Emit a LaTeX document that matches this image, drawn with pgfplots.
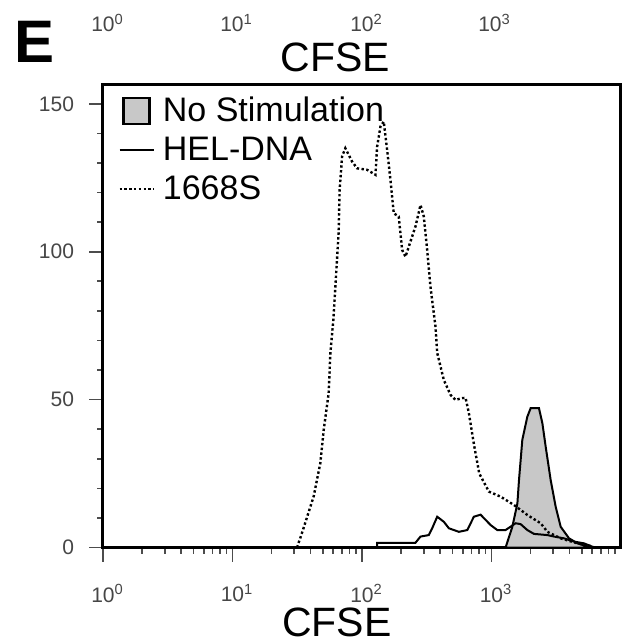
\documentclass[border=0pt]{standalone}
\usepackage{fontspec}
\setmainfont{Liberation Sans}
\usepackage{pgfplots}
\pgfplotsset{compat=1.18}

\definecolor{nostim}{RGB}{200,200,200}
\definecolor{ticktext}{RGB}{70,70,70}

% 1668S (dotted)
\pgfplotstableread{
x y
31.5 0
34.4 4.9
42.3 17.2
47.7 28.6
50.6 39.7
55.3 52.2
57.0 65.8
60.1 76.9
62.3 88.2
66.0 106.4
67.2 120.9
70.2 132.2
74.4 135.0
83.8 130.5
91.6 128.2
109.5 127.7
127.0 126.0
130.9 135.5
138.8 142.3
147.2 144.0
156.4 134.4
165.9 124.3
175.9 113.0
192.2 111.9
204.2 100.6
216.6 98.3
236.7 103.4
258.7 108.5
283.1 115.8
300.1 111.9
318.7 100.6
337.8 88.2
369.4 74.7
380.9 65.8
428.6 56.6
483.0 51.6
527.7 49.9
594.3 50.5
630.6 50.6
668.6 45.5
731 35.0
805 25.0
954.5 18.9
1175 17.2
1488 14.4
1891 11.0
2398 8.2
2703 5.3
3423 3.1
4610 1.4
5840 0.5
6200 0
}\stimdata

% HEL-DNA (solid)
\pgfplotstableread{
x y
100 0
130.9 0
130.9 1.6
258.7 1.6
283.1 3.7
328 4.2
348.4 6.5
380.9 10.4
428.6 8.7
468.8 6.5
559.8 5.3
650.2 5.9
731 10.4
823.6 11.1
984 7.6
1109 5.9
1285 5.9
1535 8.2
1679 7.9
1891 5.9
2129 4.6
2703 4.2
3040 3.7
3633 3.1
4339 2.0
5188 1.4
5840 0.5
6200 0
}\heldata

% No Stimulation (filled)
\pgfplotstableread{
x y
1285 0
1449 7.0
1585 14.9
1631 22.8
1730 36.4
1891 44.2
2006 47.1
2326 47.1
2472 42.0
2621 34.1
2865 22.8
3131 13.8
3423 7.0
3971 3.1
4610 1.4
5840 0
}\nostimdata

\begin{document}
\begin{tikzpicture}
\begin{axis}[
  at={(0,0)}, anchor=south west,
  scale only axis,
  width=259pt, height=231.75pt,
  xmode=log,
  xmin=1, xmax=10000,
  ymin=0, ymax=156.7,
  axis line style={line width=1.5pt},
  tick align=outside,
  xtick pos=bottom, ytick pos=left,
  xtick={1,10,100,1000},
  xticklabels={10\rlap{\textsuperscript{0}},10\rlap{\textsuperscript{1}},10\rlap{\textsuperscript{2}},10\rlap{\textsuperscript{3}}},
  minor xtick={2,3,4,5,6,7,8,9,20,30,40,50,60,70,80,90,200,300,400,500,600,700,800,900,2000,3000,4000,5000,6000,7000,8000,9000},
  ytick={0,50,100,150},
  minor ytick={10,20,30,40,60,70,80,90,110,120,130,140},
  /pgf/number format/assume math mode=true,
  major tick length=7pt, minor tick length=3pt,
  every tick/.style={black!70, line width=0.8pt},
  tick label style={font=\fontsize{10.5}{12}\selectfont, text=ticktext},
  xticklabel style={inner sep=1pt, yshift=-10pt},
  yticklabel style={xshift=-4pt},
  xlabel={CFSE},
  xlabel style={font=\fontsize{20.5}{24}\selectfont, inner sep=0pt, at={(axis description cs:0.4517,-0.1615)}, anchor=center},
  legend style={draw=none, fill=none, at={(axis description cs:0.025,0.985)}, anchor=north west,
    font=\fontsize{17}{20}\selectfont, row sep=2pt, inner sep=1pt,
    /tikz/every odd column/.append style={column sep=2pt}},
  legend cell align=left,
]
\addplot[draw=black, line width=1pt, fill=nostim,
  legend image code/.code={\draw[line width=1.3pt, fill=nostim] (2pt,-6.5pt) rectangle (15pt,6.5pt);}]
  table[x=x, y=y] {\nostimdata} \closedcycle;
\addlegendentry{No Stimulation}
\addplot[black, line width=1pt] table[x=x, y=y] {\heldata};
\addlegendentry{HEL-DNA}
\addplot[black, line width=1.2pt, dash pattern=on 1.2pt off 1.2pt] table[x=x, y=y] {\stimdata};
\addlegendentry{1668S}
\end{axis}
% labels left over from the panel above
\begin{scope}[font=\fontsize{10.5}{12}\selectfont, text=ticktext, anchor=base]
\node at (0pt,257.75pt) {10\rlap{\textsuperscript{0}}};
\node at (64.5pt,257.75pt) {10\rlap{\textsuperscript{1}}};
\node at (129.5pt,257.75pt) {10\rlap{\textsuperscript{2}}};
\node at (193.5pt,257.75pt) {10\rlap{\textsuperscript{3}}};
\end{scope}
\node[font=\fontsize{20.5}{24}\selectfont] at (116.25pt,245.25pt) {CFSE};
\node[font=\fontsize{30}{36}\selectfont\bfseries] at (-34pt,252.75pt) {E};
\pgfresetboundingbox
\useasboundingbox (-51.5pt,-48.25pt) rectangle (262.5pt,273.75pt);
\end{tikzpicture}
\end{document}
